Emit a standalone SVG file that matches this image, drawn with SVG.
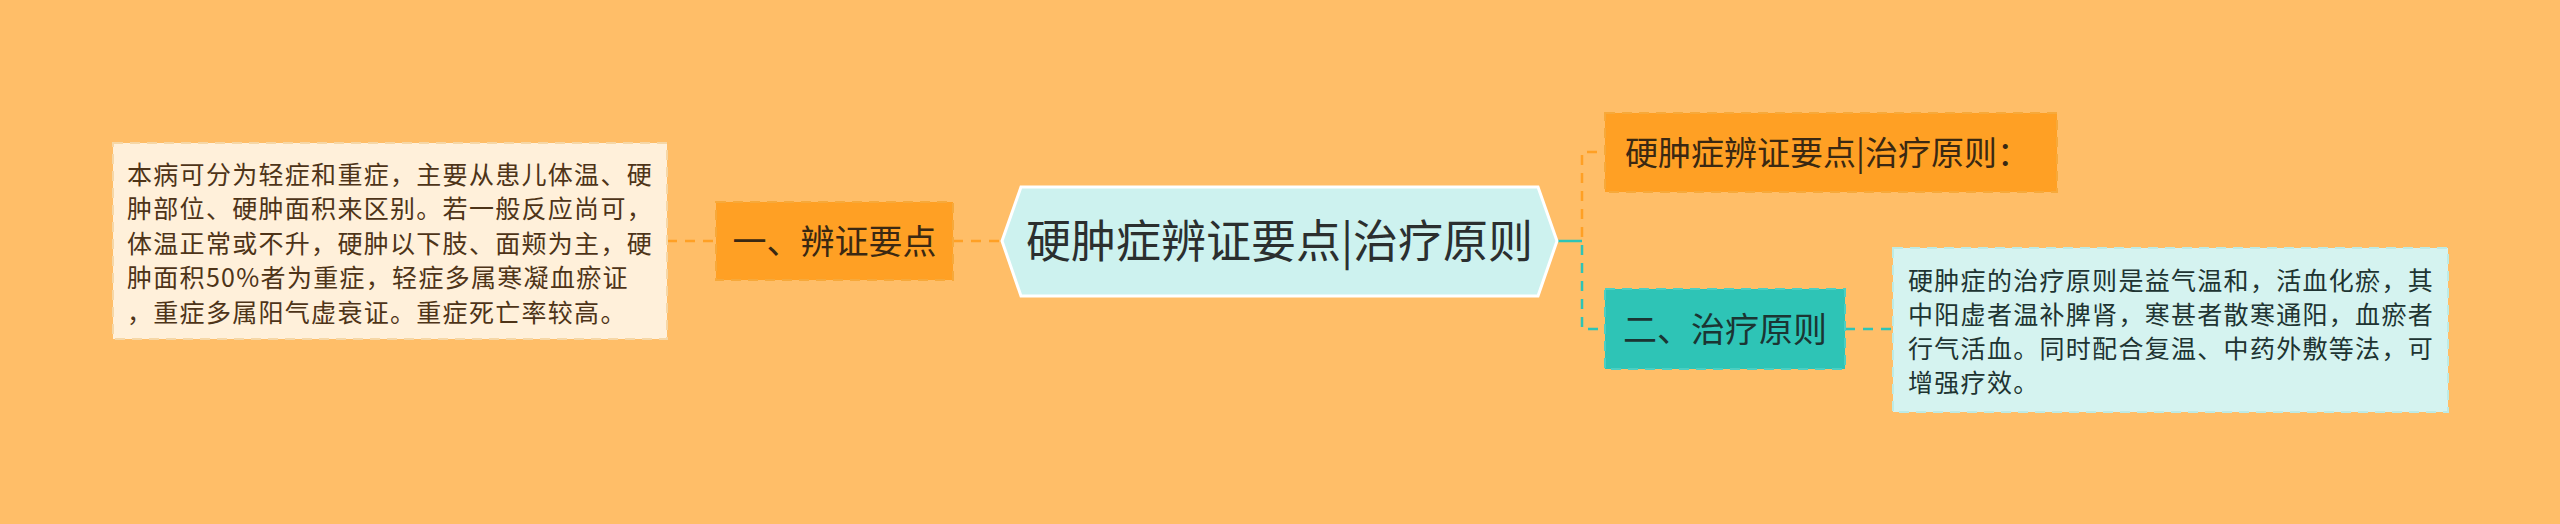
<svg xmlns="http://www.w3.org/2000/svg" width="2560" height="524" viewBox="0 0 2560 524">
<style>
.cjk{font-family:"Noto Sans CJK SC","Noto Sans",sans-serif;}
.small{font-size:25px;letter-spacing:1.3px;}
.mid{font-size:34px;}
.dash{stroke-dasharray:10 7;stroke-width:2;}
.or{fill:none;stroke:#FFA024;stroke-width:2.5;stroke-dasharray:10 8;}
.te{fill:none;stroke:#2EC4B6;stroke-width:2.5;stroke-dasharray:10 8;}
</style>
<rect x="0" y="0" width="2560" height="524" fill="#FFBE68"/>
<g id="connectors">
<path class="or" d="M667 241 H716"/>
<path class="or" d="M953 241 H1002"/>
<path d="M1557 241 H1582" fill="none" stroke="#2EC4B6" stroke-width="2.5"/>
<path class="or" d="M1582 237 V152 H1605"/>
<path class="te" d="M1582 245 V329 H1605"/>
<path class="te" d="M1845 329 H1893"/>
</g>
<g id="node-left-text">
<rect x="113" y="143" width="554" height="196" fill="#FFF0DA" stroke="#F6D7A6" class="dash"/>
<g class="cjk small" fill="#4E3418">
<text x="127" y="183.5">本病可分为轻症和重症，主要从患儿体温、硬</text>
<text x="127" y="218">肿部位、硬肿面积来区别。若一般反应尚可，</text>
<text x="127" y="252.5">体温正常或不升，硬肿以下肢、面颊为主，硬</text>
<text x="127" y="287">肿面积50%者为重症，轻症多属寒凝血瘀证</text>
<text x="127" y="321.5">，重症多属阳气虚衰证。重症死亡率较高。</text>
</g>
</g>
<g id="node-bianzheng">
<rect x="716" y="202" width="237" height="78" fill="#FFA024" stroke="#F7A93A" class="dash"/>
<text class="cjk mid" x="834.5" y="254" text-anchor="middle" fill="#3A2812">一、辨证要点</text>
</g>
<g id="node-center">
<polygon points="1002,241 1021,187 1538,187 1557,241 1538,296 1021,296" fill="#CDF2EF" stroke="#FFFFFF" stroke-width="3"/>
<text class="cjk" x="1279.5" y="258" font-size="45" text-anchor="middle" fill="#2B2F2F">硬肿症辨证要点|治疗原则</text>
</g>
<g id="node-title2">
<rect x="1605" y="113" width="452" height="79" fill="#FFA024" stroke="#F7A93A" class="dash"/>
<text class="cjk" x="1625" y="164.5" font-size="33" fill="#3A2812">硬肿症辨证要点|治疗原则：</text>
</g>
<g id="node-zhiliao">
<rect x="1605" y="289" width="240" height="80" fill="#2EC4B6" stroke="#4CCFC2" class="dash"/>
<text class="cjk mid" x="1725" y="342" text-anchor="middle" fill="#1B3533">二、治疗原则</text>
</g>
<g id="node-right-text">
<rect x="1893" y="248" width="555" height="164" fill="#D5F3F0" stroke="#BDEBE5" class="dash"/>
<g class="cjk small" fill="#203432">
<text x="1908" y="289.5">硬肿症的治疗原则是益气温和，活血化瘀，其</text>
<text x="1908" y="323.5">中阳虚者温补脾肾，寒甚者散寒通阳，血瘀者</text>
<text x="1908" y="357.5">行气活血。同时配合复温、中药外敷等法，可</text>
<text x="1908" y="391.5">增强疗效。</text>
</g>
</g>
</svg>
